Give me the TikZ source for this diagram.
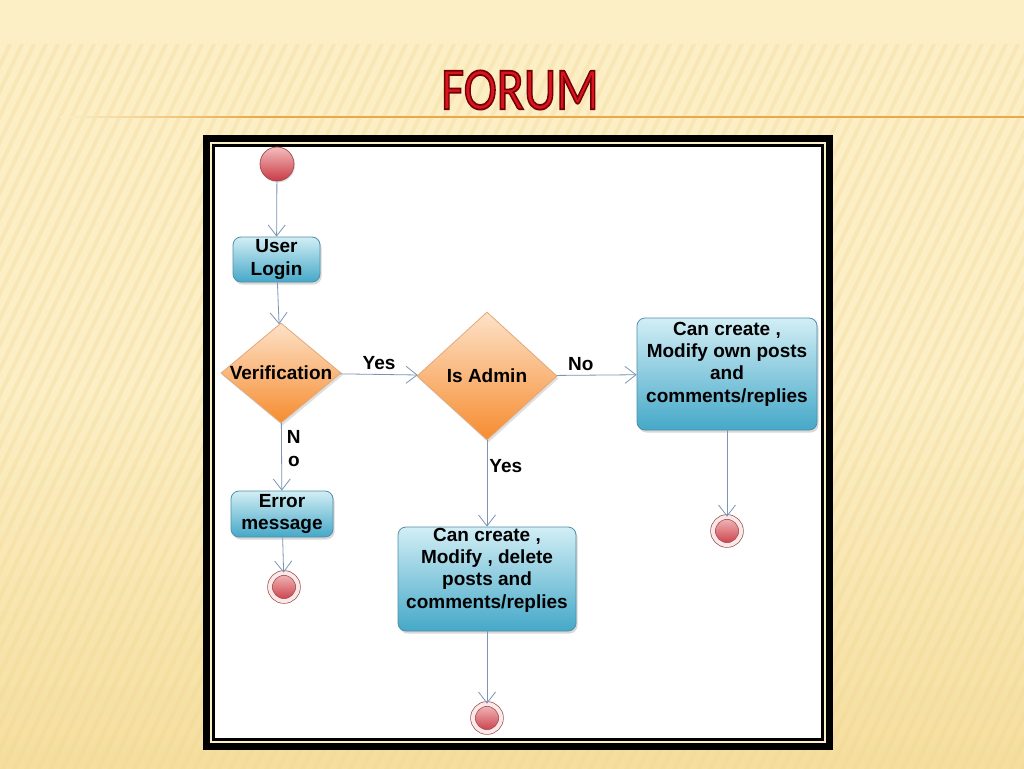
\documentclass[tikz,border=0pt]{standalone}
\usepackage{fontspec}
\usepackage{graphicx}
\setmainfont{Liberation Sans}
\newfontfamily\titlefont{Carlito}
\usetikzlibrary{arrows.meta,shapes.geometric,shadows}
\definecolor{bgcream}{HTML}{FCEFC6}
\definecolor{bgdark}{HTML}{F5DE9E}
\definecolor{stripec}{HTML}{EFD48C}
\definecolor{rulec}{HTML}{E9A84A}
\definecolor{arrowc}{HTML}{7A95B5}
\definecolor{boxtop}{HTML}{D2EEF5}
\definecolor{boxbot}{HTML}{45A8C8}
\definecolor{boxline}{HTML}{4F8FA8}
\definecolor{diatop}{HTML}{FDE2C8}
\definecolor{diabot}{HTML}{F68C30}
\definecolor{dialine}{HTML}{E3A878}
\definecolor{dotline}{HTML}{A04A4A}
\definecolor{dottop}{HTML}{F4BDBD}
\definecolor{dotbot}{HTML}{C93A45}
\definecolor{ringc}{HTML}{FBE8E8}
\definecolor{titlered}{HTML}{D8141C}
\newcommand\outlinedtitle{%
  \scalebox{1}[1.2]{\color{titlered}\special{pdf:literal 0.45 0 0.03 RG 2 Tr 1.4 w}FORUM\special{pdf:literal 0 Tr}}}
\tikzset{
  actbox/.style={rectangle, rounded corners=8pt, draw=boxline, line width=0.8pt,
    top color=boxtop, bottom color=boxbot, align=center, inner sep=2pt,
    font=\bfseries\fontsize{19}{22.3}\selectfont,
    drop shadow={shadow xshift=1.5pt, shadow yshift=-2.5pt, opacity=0.3}},
  boxtext/.style={align=center, inner sep=0pt, font=\bfseries\fontsize{19}{22.3}\selectfont},
  decide/.style={diamond, draw=dialine, line width=0.8pt, top color=diatop,
    bottom color=diabot, inner sep=0pt,
    drop shadow={shadow xshift=1.5pt, shadow yshift=-2.5pt, opacity=0.25}},
  startdot/.style={circle, minimum size=34pt, inner sep=0pt, draw=dotline,
    line width=0.7pt, top color=dottop, bottom color=dotbot,
    drop shadow={shadow xshift=1pt, shadow yshift=-1.5pt, opacity=0.25}},
  enddot/.style={circle, minimum size=28pt, inner sep=0pt, draw=dotline,
    line width=0.7pt, double=ringc, double distance=4pt,
    top color=dottop, bottom color=dotbot},
  flow/.style={draw=arrowc, line width=0.8pt, -{Straight Barb[length=11pt,width=17pt,line width=0.8pt]}},
  lbl/.style={font=\bfseries\fontsize{19}{23}\selectfont, inner sep=0pt, align=center},
  dtext/.style={font=\bfseries\fontsize{19}{22}\selectfont}
}
\begin{document}
\begin{tikzpicture}[x=1pt,y=-1pt]
\useasboundingbox (0,0) rectangle (1024,768);
% background
\shade[top color=bgcream, bottom color=bgdark, middle color=bgcream] (0,0) rectangle (1024,768);
\fill[bgcream] (0,0) rectangle (1024,40);
\begin{scope}
\clip (0,45) rectangle (1024,768);
\foreach \i in {-40,...,90} {
  \draw[stripec, line width=4pt, opacity=0.28] (\i*12,800) -- (\i*12+360,40);
}
\end{scope}
\shade[left color=bgcream, right color=rulec] (60,116.4) rectangle (260,117.6);
\fill[rulec] (260,116.4) rectangle (1024,117.6);
% title
\node (title) [font=\titlefont\fontsize{50}{50}\selectfont, inner sep=0pt] at (520,90) {\outlinedtitle};
% frame
\fill[black] (203,135) rectangle (833,750);
\fill[bgcream] (210,142) rectangle (826,743);
\fill[black] (212,144) rectangle (824,741);
\fill[white] (215,147) rectangle (821,738);
% nodes
\node (start) [startdot] at (277,164) {};
\node (login) [actbox, minimum width=87pt, minimum height=45pt] at (276.5,259.5) {User\\Login};
\node (verif) [decide, minimum width=120pt, minimum height=100pt, label={[dtext]center:Verification}] at (281,373) {};
\node (admin) [decide, minimum width=140pt, minimum height=128pt, label={[dtext]center:Is Admin}] at (487,376) {};
\node (own) [actbox, minimum width=180pt, minimum height=112pt,
  label={[boxtext, yshift=10pt]center:Can create ,\\Modify own posts\\and\\comments/replies}] at (727,374) {};
\node (error) [actbox, minimum width=102pt, minimum height=46pt] at (282,514) {Error\\message};
\node (full) [actbox, minimum width=178pt, minimum height=104pt,
  label={[boxtext, yshift=9pt]center:Can create ,\\Modify , delete\\posts and\\comments/replies}] at (487,579) {};
\node (end1) [enddot] at (284,587) {};
\node (end2) [enddot] at (727,531) {};
\node (end3) [enddot] at (487,718) {};
% connectors
\draw[flow] (start) -- (login);
\draw[flow] (login) -- (verif);
\draw[flow] (verif) -- node[lbl, above=4pt, pos=0.5] {Yes} (admin);
\draw[flow] (admin) -- node[lbl, above=4pt, pos=0.3] {No} (own);
\draw[flow] (verif) -- node[lbl, right=5pt, pos=0.38] {N\\o} (error);
\draw[flow] (admin) -- node[lbl, right=2pt, pos=0.3] {Yes} (full);
\draw[flow] (error) -- (end1);
\draw[flow] (own) -- (end2);
\draw[flow] (full) -- (end3);
\end{tikzpicture}
\end{document}
